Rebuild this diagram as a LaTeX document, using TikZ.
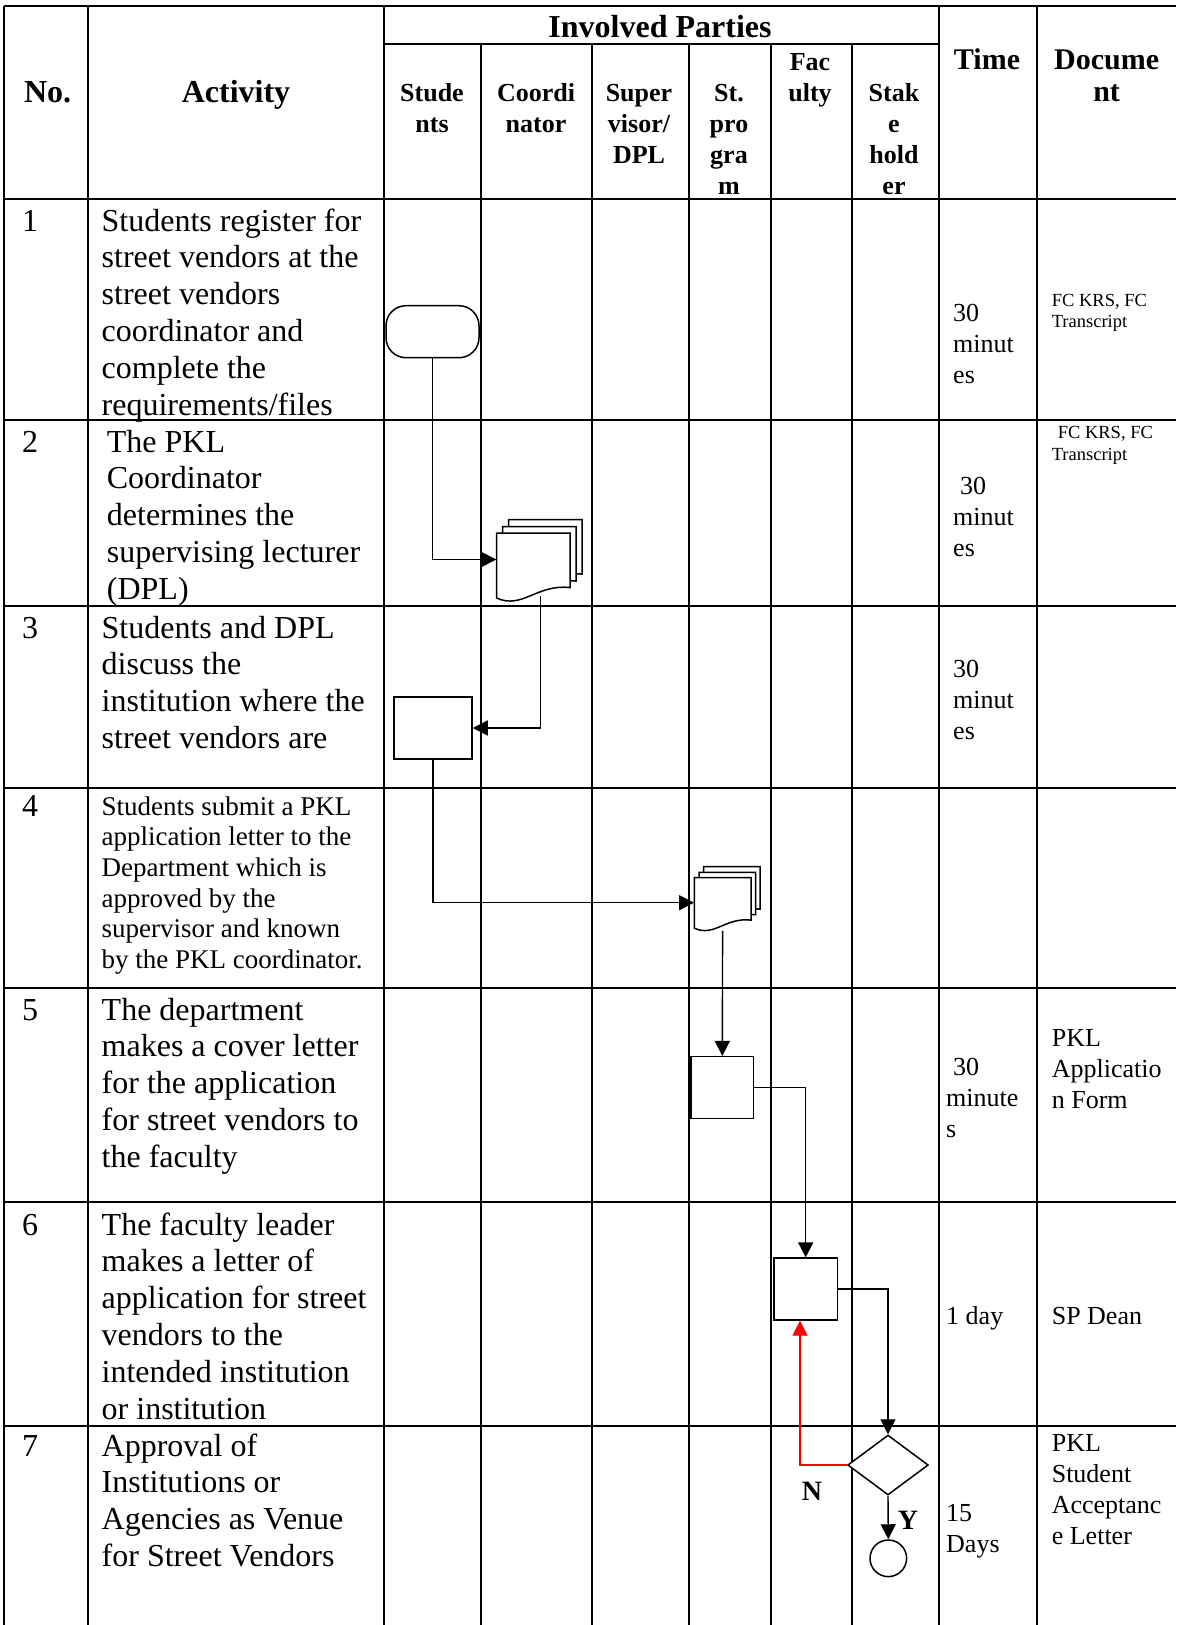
\documentclass[tikz,border=0pt]{standalone}
\usepackage{fontspec}
\setmainfont{Liberation Serif}
\usetikzlibrary{arrows.meta,shapes.geometric}

\newcommand{\actsize}{\fontsize{32}{36.8}\selectfont}
\newcommand{\smallact}{\fontsize{27}{30.7}\selectfont}
\newcommand{\colsize}{\fontsize{26}{31}\selectfont}
\newcommand{\docsize}{\fontsize{18.5}{21.8}\selectfont}

% one sheet of the multi-document symbol: left, top, width, height
\newcommand{\docpage}[4]{%
  \draw[shapeline, fill=white] (#1,#2) -- ({#1+#3},#2) -- ({#1+#3},{#2+0.84*#4})
    .. controls ({#1+0.55*#3},{#2+0.78*#4}) and ({#1+0.35*#3},{#2+1.18*#4}) .. (#1,{#2+#4}) -- cycle;}

\begin{document}
\begin{tikzpicture}[x=1pt, y=-1pt,
		gridline/.style={line width=2pt},
		shapeline/.style={line width=1.5pt},
		proc/.style={rectangle, draw, shapeline, fill=white, inner sep=0pt},
		term/.style={proc, rounded corners=20pt},
		decision/.style={diamond, draw, shapeline, fill=white, inner sep=0pt},
		endpt/.style={circle, draw, shapeline, inner sep=0pt, minimum size=36.6pt},
		docnode/.style={rectangle, inner sep=0pt},
		flow/.style={-{Triangle[length=15pt,width=15pt]}, line width=1.4pt},
		headtext/.style={anchor=base, align=center, inner sep=0pt, font=\bfseries\actsize},
		subhead/.style={anchor=base, align=center, inner sep=0pt, font=\bfseries\colsize},
		acttext/.style={anchor=base west, align=left, inner sep=0pt, font=\actsize},
		timetext/.style={anchor=base west, align=left, inner sep=0pt, font=\colsize},
		doctext/.style={anchor=base west, align=left, inner sep=0pt, font=\docsize},
		yn/.style={inner sep=0pt, font=\bfseries\fontsize{28}{30}\selectfont}
		]
		\useasboundingbox (0,0) rectangle (1176,1625);
		
		% table grid
		\draw[gridline] (4,6) -- (1176,6);
		\draw[gridline] (384,43.5) -- (939,43.5);
		\draw[line width=2.8pt] (4,199) -- (1176,199);
		\foreach \y in {420,606,787.5,987.5,1202,1426}
			\draw[gridline] (4,\y) -- (1176,\y);
		\foreach \x in {4,88,384,939,1037}
			\draw[gridline] (\x,6) -- (\x,1625);
		\foreach \x in {481,592,689,771,852}
			\draw[gridline] (\x,43.5) -- (\x,1625);
		
		% header (multi-line nodes sit on their last line)
		\node[headtext] (hno) at (47.7,102) {No.};
		\node[headtext] (hact) at (236,102) {Activity};
		\node[headtext] (hparties) at (660,37) {Involved Parties};
		\node[subhead] (hstud) at (432,132) {Stude\\nts};
		\node[subhead] (hcoord) at (536,132) {Coordi\\nator};
		\node[subhead] (hsup) at (639,163) {Super\\visor/\\DPL};
		\node[subhead] (hprog) at (729,194) {St.\\pro\\gra\\m};
		\node[subhead] (hfac) at (810,101) {Fac\\ulty};
		\node[subhead] (hstake) at (894,194) {Stak\\e\\hold\\er};
		\node[headtext, font=\bfseries\fontsize{30}{32}\selectfont] (htime) at (987,69) {Time};
		\node[headtext, font=\bfseries\fontsize{30}{32}\selectfont] (hdoc) at (1106.6,101) {Docume\\nt};
		
		% numbers and activities
		\node[acttext] (n1) at (22,231) {1};
		\node[acttext] (a1) at (101.5,{231+5*36.8}) {Students register for\\street vendors at the\\street vendors\\coordinator and\\complete the\\requirements/files};
		\node[acttext] (n2) at (22,452) {2};
		\node[acttext] (a2) at (106.7,{452+4*36.8}) {The PKL\\Coordinator\\determines the\\supervising lecturer\\(DPL)};
		\node[acttext] (n3) at (22,638) {3};
		\node[acttext] (a3) at (101.5,{638+3*36.8}) {Students and DPL\\discuss the\\institution where the\\street vendors are};
		\node[acttext] (n4) at (22,816) {4};
		\node[acttext, font=\smallact] (a4) at (101.5,{815+5*30.7}) {Students submit a PKL\\application letter to the\\Department which is\\approved by the\\supervisor and known\\by the PKL coordinator.};
		\node[acttext] (n5) at (22,1020) {5};
		\node[acttext] (a5) at (101.5,{1020+4*36.8}) {The department\\makes a cover letter\\for the application\\for street vendors to\\the faculty};
		\node[acttext] (n6) at (22,1235) {6};
		\node[acttext] (a6) at (101.5,{1235+5*36.8}) {The faculty leader\\makes a letter of\\application for street\\vendors to the\\intended institution\\or institution};
		\node[acttext] (n7) at (22,1456) {7};
		\node[acttext] (a7) at (101.5,{1456+3*36.8}) {Approval of\\Institutions or\\Agencies as Venue\\for Street Vendors};
		
		% time
		\node[timetext] (time1) at (953,{321+2*31}) {30\\minut\\es};
		\node[timetext] (time2) at (953,{494+2*31}) {\hspace*{7pt}30\\minut\\es};
		\node[timetext] (time3) at (953,{677+2*31}) {30\\minut\\es};
		\node[timetext] (time5) at (946,{1075+2*31}) {\hspace*{7pt}30\\minute\\s};
		\node[timetext] (time6) at (946,1324) {1 day};
		\node[timetext] (time7) at (946,{1521+31}) {15\\Days};
		
		% documents
		\node[doctext] (docu1) at (1051.6,{306+21.8}) {FC KRS, FC\\Transcript};
		\node[doctext] (docu2) at (1051.6,{438.5+21.8}) {\hspace*{6pt}FC KRS, FC\\Transcript};
		\node[timetext] (docu5) at (1051.6,{1046+2*31}) {PKL\\Applicatio\\n Form};
		\node[timetext] (docu6) at (1051.6,1324) {SP Dean};
		\node[timetext] (docu7) at (1051.6,{1451+3*31}) {PKL\\Student\\Acceptanc\\e Letter};
		
		% flow symbols
		\node[term, minimum width=93pt, minimum height=52pt] (start1) at (432.5,331.7) {};
		\docpage{508.5}{519.5}{73.5}{65}
		\docpage{502.5}{526.5}{73.5}{65}
		\docpage{496.5}{533}{73.5}{65}
		\node[docnode, minimum width=73.5pt, minimum height=53pt] (doc2) at (533.25,559.5) {};
		\node[proc, minimum width=78pt, minimum height=62pt] (sq3) at (433,728) {};
		\docpage{703.5}{866.7}{56.7}{50.5}
		\docpage{699}{872.3}{56.7}{50.5}
		\docpage{694.3}{877.7}{56.7}{50.5}
		\node[docnode, minimum width=56.7pt, minimum height=50pt] (doc4) at (722.6,902.7) {};
		\node[proc, minimum width=62.7pt, minimum height=62pt] (sq5) at (722.3,1087.7) {};
		\node[proc, minimum width=63.3pt, minimum height=61.7pt] (sq6) at (805.7,1289) {};
		\node[decision, minimum width=80.6pt, minimum height=60pt] (dec7) at (888,1465) {};
		\node[endpt] (end7) at (888.3,1558.3) {};
		
		% connectors
		\draw[flow] (start1.south) |- (doc2.west);
		\draw[flow] ([xshift=7pt,yshift=-10pt]doc2.south) |- (sq3.east);
		\draw[flow] (sq3.south) |- (doc4.west);
		\draw[flow] ([yshift=-3pt]doc4.south) -- (sq5.north);
		\draw[flow] (sq5.east) -| (sq6.north);
		\draw[flow] (sq6.east) -| (dec7.north);
		\draw[flow, red] (dec7.west) -| ([xshift=-5.7pt]sq6.south);
		\draw[flow] (dec7.south) -- (end7.north);
		\node[yn] (lbln) at (812,1491) {N};
		\node[yn] (lbly) at (908,1520) {Y};
	\end{tikzpicture}
\end{document}
